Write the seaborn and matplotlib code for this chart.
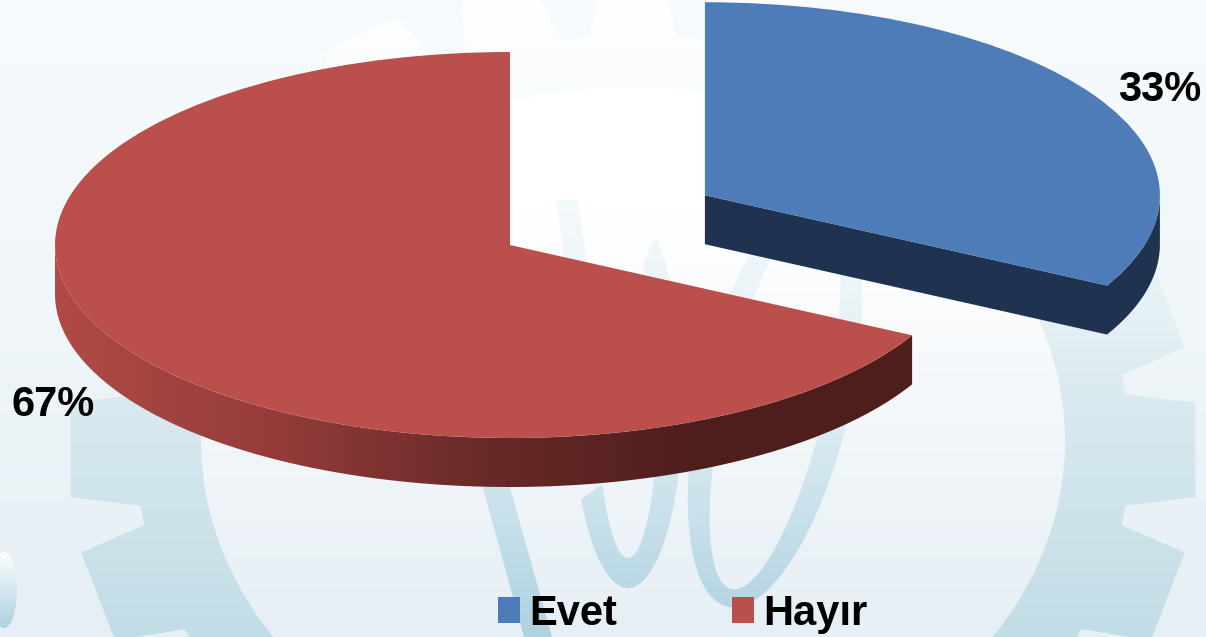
import numpy as np
import seaborn as sns
import matplotlib.pyplot as plt
from matplotlib.path import Path
from matplotlib.patches import PathPatch, Polygon

# data
categories = ["Evet", "Hayır"]
shares = [32.75, 67.25]
colors = ["#4d7cb8", "#bb4f4b"]
side_blue = "#1f3350"
label_pos = [(1160, 90), (53, 405)]

sns.set_theme(style="white")
plt.rcParams["font.family"] = ["Liberation Sans", "DejaVu Sans"]

W, H = 1206, 637
fig = plt.figure(figsize=(W / 100, H / 100), dpi=100)


def ellipse(cx, cy, rx, ry, tilt=0, n=200, reverse=False):
    t = np.linspace(0, 2 * np.pi, n)
    if reverse:
        t = t[::-1]
    x, y = rx * np.cos(t), ry * np.sin(t)
    a = np.radians(tilt)
    return np.c_[cx + x * np.cos(a) - y * np.sin(a), cy + x * np.sin(a) + y * np.cos(a)]


def compound(*rings):
    verts = np.vstack(rings)
    codes = []
    for r in rings:
        codes += [Path.MOVETO] + [Path.LINETO] * (len(r) - 2) + [Path.CLOSEPOLY]
    return Path(verts, codes)


def vgrad(axis, path, cols, y0=0, y1=H, z=1):
    # vertical gradient clipped to a shape
    cmap = sns.blend_palette(cols, as_cmap=True)
    im = axis.imshow(np.linspace(0, 1, 256)[:, None], extent=(0, W, y1, y0), cmap=cmap,
                     aspect="auto", zorder=z, origin="upper")
    im.set_clip_path(PathPatch(path, transform=axis.transData))


# watermark behind the chart
bg = fig.add_axes([0, 0, 1, 1])
bg.imshow(np.linspace(0, 1, 256)[:, None], extent=(0, W, H, 0), aspect="auto",
          cmap=sns.blend_palette(["#f7fbfd", "#f0f6f9", "#e6eff5"], as_cmap=True))

gx, gy = 633, 450
right_teeth = [-54, -36, -18, 0, 18, 33, 47, 61, 76]
teeth = right_teeth + [90] + [180 - a for a in right_teeth[::-1]]
pts = []
for a in teeth:
    tip = 3 + 2.7 * abs(np.cos(np.radians(a)))
    for da, rx, ry in [(-tip - 2, 497, 415), (-tip, 565, 476), (tip, 565, 476), (tip + 2, 497, 415)]:
        t = np.radians(a + da)
        pts.append((gx + rx * np.cos(t), gy - ry * np.sin(t)))
pts.append(pts[0])
vgrad(bg, compound(np.array(pts)), ["#ffffff", "#f2f8fa", "#d6e8ee", "#c2dde6"], z=1)
vgrad(bg, compound(ellipse(gx, 441, 432, 354)), ["#ffffff", "#ffffff", "#f3f7fa", "#e6eff5"], z=2)

digit_cols = ["#ffffff", "#f4f9fb", "#dcecf2", "#aed2e0"]
# the 1
vgrad(bg, compound(np.array([(478, 470), (505, 470), (552, H), (524, H), (478, 470)])), digit_cols, z=3)
# the 5: bowl left open, plus its top stroke
t = np.radians(np.linspace(-60, 148, 120))
outer = np.c_[628 + 55 * np.cos(t), 400 + 188 * np.sin(t)]
inner = np.c_[628 + 30 * np.cos(t), 400 + 158 * np.sin(t)][::-1]
vgrad(bg, compound(np.r_[outer, inner, outer[:1]]), digit_cols, z=3)
vgrad(bg, compound(np.array([(556, 200), (578, 200), (592, 300), (570, 300), (556, 200)])), digit_cols, z=3)
# the 0
vgrad(bg, compound(ellipse(775, 400, 75, 212, 13), ellipse(775, 400, 50, 194, 13, reverse=True)), digit_cols, z=3)
vgrad(bg, compound(ellipse(4, 590, 13, 38)), ["#ffffff", "#a9d0df"], y0=550, y1=630, z=3)
bg.set_xlim(0, W)
bg.set_ylim(H, 0)
bg.axis("off")

# pie: unit radius, squashed by the axes limits
cx, cy, rx, ry = 510, 245, 455, 193
ax = fig.add_axes([0, 0, 1, 1])
ax.patch.set_alpha(0)
wedges, _ = ax.pie(shares, colors=colors, explode=[0.5, 0], startangle=90, counterclock=False,
                   radius=1, wedgeprops={"linewidth": 0})
depth = 49 / ry


def side(w, t0, t1):
    t = np.radians(np.linspace(t0, t1, 150))
    x = w.center[0] + np.cos(t)
    y = w.center[1] + np.sin(t)
    return np.r_[np.c_[x, y], np.c_[x, y - depth][::-1]]


blue, red = wedges
blue.set_zorder(5)
red.set_zorder(5)

# blue wedge: rim and the cut face
ax.add_patch(Polygon(side(blue, blue.theta1, 0), color=side_blue, lw=0, zorder=3))
e = np.radians(blue.theta1)
c0, c1 = blue.center
cut = [(c0, c1), (c0 + np.cos(e), c1 + np.sin(e)), (c0 + np.cos(e), c1 + np.sin(e) - depth), (c0, c1 - depth)]
ax.add_patch(Polygon(cut, color=side_blue, lw=0, zorder=3))

# red wedge: rim with a left to right shade
rim = Polygon(side(red, -180, red.theta2), transform=ax.transData, lw=0)
shade = sns.blend_palette(["#b04a47", "#953c3a", "#682a28", "#4e1e1d", "#4e1e1d"], as_cmap=True)
im = ax.imshow(np.linspace(0, 1, 256)[None, :], extent=(-1, 0.9, -1.4, 0), cmap=shade, aspect="auto", zorder=3)
im.set_clip_path(rim)

ax.set_aspect("auto")
ax.set_xlim(-cx / rx, (W - cx) / rx)
ax.set_ylim((cy - H) / ry, cy / ry)
ax.axis("off")

for v, (px, py) in zip(shares, label_pos):
    ax.text(px, py, f"{v:.0f}%", transform=bg.transData, ha="center", va="center",
            fontsize=30, fontweight="bold", color="black", zorder=6)

ax.legend(wedges, categories, ncol=2, frameon=False, loc="center left",
          bbox_to_anchor=(498, 614), bbox_transform=bg.transData,
          prop={"size": 30, "weight": "bold"}, labelcolor="black",
          handlelength=0.53, handleheight=0.58, handletextpad=0.22, columnspacing=2.75,
          borderpad=0, borderaxespad=0)

fig.savefig("out.png", dpi=100)
